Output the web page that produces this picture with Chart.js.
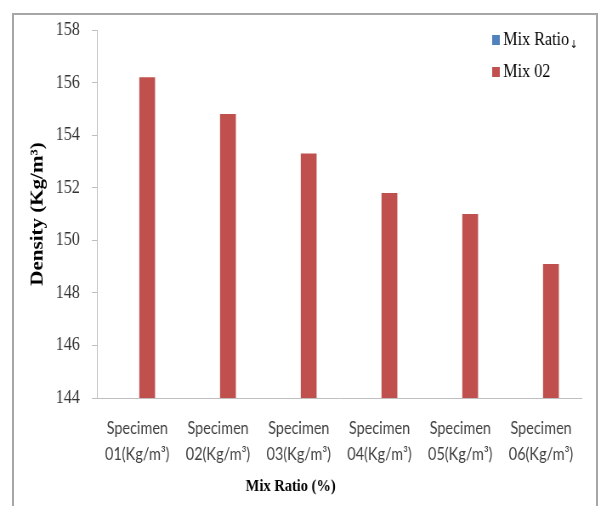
<!DOCTYPE html>
<html>
<head>
<meta charset="utf-8">
<script src="https://cdn.jsdelivr.net/npm/chart.js@4"></script>
<style>
  html, body { margin: 0; padding: 0; background: #fff; overflow: hidden; }
  #page { position: relative; width: 605px; height: 506px; overflow: hidden; }
  #frame { position: absolute; left: 12px; top: 13px; width: 586px; height: 520px; border: 2px solid #a6a6a6; box-sizing: border-box; }
  #wrap { position: absolute; left: 0; top: 0; width: 712px; height: 506px; transform: scaleX(0.85); transform-origin: 0 0; }
</style>
</head>
<body>
<div id="page">
  <div id="frame"></div>
  <div id="wrap"><canvas id="densityChart" width="712" height="506"></canvas></div>
</div>
<script>
const categories = [
    ['Specimen', '01(Kg/m³)'],
    ['Specimen', '02(Kg/m³)'],
    ['Specimen', '03(Kg/m³)'],
    ['Specimen', '04(Kg/m³)'],
    ['Specimen', '05(Kg/m³)'],
    ['Specimen', '06(Kg/m³)']
];
const seriesNames = ['Mix Ratio', 'Mix 02'];
const mixRatioValues = [null, null, null, null, null, null];
const mix02Values = [156.2, 154.8, 153.3, 151.8, 151.0, 149.1];
const yMin = 144;
const yMax = 158;
const yStep = 2;

// legend sits inside the plot, top right, one item per row
const boxLegend = {
    id: 'boxLegend',
    afterDraw(chart) {
        const ctx = chart.ctx;
        ctx.save();
        ctx.textBaseline = 'middle';
        chart.data.datasets.forEach((ds, i) => {
            const x = 579;
            const y = 40 + i * 32;
            ctx.fillStyle = ds.backgroundColor;
            ctx.fillRect(x, y - 5, 9, 10);
            ctx.fillStyle = '#000';
            ctx.font = '19px "Liberation Serif"';
            ctx.fillText(ds.label, x + 13, y);
            if (i === 0) {
                const w = ctx.measureText(ds.label).width;
                ctx.font = '11px "DejaVu Sans"';
                ctx.fillText('↓', x + 14 + w, y + 5);
            }
        });
        ctx.restore();
    }
};

const ctx = document.getElementById('densityChart');
new Chart(ctx, {
    type: 'bar',
    data: {
        labels: categories,
        datasets: [{
            label: seriesNames[0],
            data: mixRatioValues,
            backgroundColor: '#4f81bd'
        }, {
            label: seriesNames[1],
            data: mix02Values,
            backgroundColor: '#c0504d'
        }]
    },
    options: {
        responsive: false,
        animation: false,
        categoryPercentage: 0.49,
        barPercentage: 0.8,
        layout: { padding: { top: 30, right: 28, bottom: 0, left: 0 } },
        plugins: {
            legend: { display: false },
            tooltip: { enabled: false },
            title: {
                display: true,
                position: 'bottom',
                text: 'Mix Ratio (%)',
                color: '#000',
                font: { family: 'Liberation Serif', size: 17, weight: 'bold' },
                padding: { top: 0, bottom: 9 }
            }
        },
        scales: {
            x: {
                grid: { display: false, drawTicks: false },
                border: { display: true, color: '#bfbfbf', width: 1 },
                ticks: {
                    color: '#404040',
                    font: { family: 'Lato', size: 17, lineHeight: 1.53 },
                    padding: 18,
                    maxRotation: 0,
                    autoSkip: false
                },
                afterFit: s => { s.height = 78.6; }
            },
            y: {
                min: yMin,
                max: yMax,
                grid: { display: true, drawOnChartArea: false, drawTicks: true, tickLength: 6, color: '#bfbfbf' },
                border: { display: true, color: '#bfbfbf', width: 1 },
                ticks: {
                    stepSize: yStep,
                    color: '#333',
                    font: { family: 'Liberation Serif', size: 19 },
                    padding: 14
                },
                title: {
                    display: true,
                    text: 'Density (Kg/m³)',
                    color: '#000',
                    font: { family: 'Liberation Serif', size: 21, weight: 'bold' },
                    padding: { top: 32, bottom: 0 }
                },
                afterFit: s => { s.width = 114; }
            }
        }
    },
    plugins: [boxLegend]
});
</script>
</body>
</html>
